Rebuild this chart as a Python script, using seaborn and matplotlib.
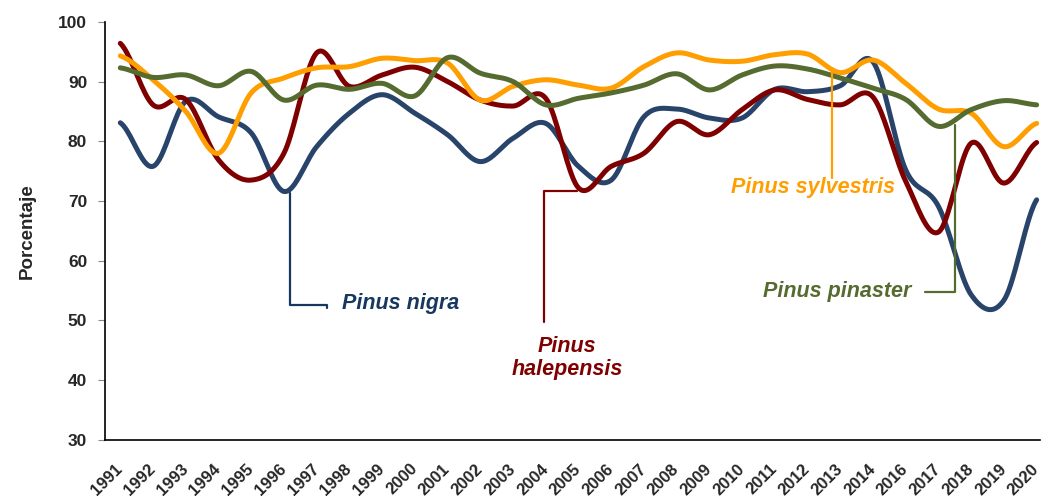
import numpy as np
import pandas as pd
import seaborn as sns
import matplotlib.pyplot as plt

# data (2015 is absent in the original)
years = [1991, 1992, 1993, 1994, 1995, 1996, 1997, 1998, 1999, 2000,
         2001, 2002, 2003, 2004, 2005, 2006, 2007, 2008, 2009, 2010,
         2011, 2012, 2013, 2014, 2016, 2017, 2018, 2019, 2020]
nigra = [83.1, 75.8, 86.7, 84.1, 81.4, 71.6, 79.1, 84.7, 87.8, 84.7,
         81.1, 76.6, 80.5, 83.0, 75.8, 73.5, 84.1, 85.4, 83.9, 83.9,
         88.7, 88.3, 89.3, 93.3, 75.2, 69.1, 54.3, 53.4, 70.2]
halepensis = [96.4, 86.1, 87.0, 76.9, 73.5, 78.0, 94.8, 89.2, 91.1, 92.4,
              90.0, 86.9, 85.9, 87.2, 72.2, 75.8, 78.0, 83.3, 81.1, 85.3,
              88.6, 87.0, 86.1, 87.4, 73.3, 64.8, 79.7, 73.0, 79.8]
sylvestris = [94.3, 90.3, 85.0, 78.0, 88.1, 90.6, 92.3, 92.5, 93.9, 93.5,
              93.1, 86.9, 89.2, 90.3, 89.4, 88.9, 92.5, 94.8, 93.6, 93.4,
              94.5, 94.6, 91.5, 93.6, 89.7, 85.4, 84.7, 79.1, 83.0]
pinaster = [92.3, 90.7, 91.1, 89.3, 91.7, 86.9, 89.4, 88.7, 89.7, 87.6,
            94.0, 91.4, 90.0, 86.1, 87.2, 88.1, 89.4, 91.3, 88.6, 91.1,
            92.6, 92.1, 90.6, 88.9, 87.0, 82.5, 85.3, 86.8, 86.1]

series = {'Pinus nigra': nigra, 'Pinus halepensis': halepensis,
          'Pinus sylvestris': sylvestris, 'Pinus pinaster': pinaster}
colors = {'Pinus nigra': '#28446a', 'Pinus halepensis': '#7f0000',
          'Pinus sylvestris': '#ff9e00', 'Pinus pinaster': '#556b2f'}


def smooth(vals, steps=20):
    # Catmull-Rom curve, close to the smoothed lines of a spreadsheet chart
    p = np.r_[vals[0], vals, vals[-1]].astype(float)
    xs, ys = [], []
    for i in range(len(vals) - 1):
        t = np.linspace(0, 1, steps, endpoint=False)
        p0, p1, p2, p3 = p[i], p[i + 1], p[i + 2], p[i + 3]
        y = 0.5 * (2 * p1 + (-p0 + p2) * t + (2 * p0 - 5 * p1 + 4 * p2 - p3) * t ** 2
                   + (-p0 + 3 * p1 - 3 * p2 + p3) * t ** 3)
        xs.append(i + t)
        ys.append(y)
    xs.append([len(vals) - 1])
    ys.append([vals[-1]])
    return np.concatenate(xs), np.concatenate(ys)


rows = []
for name, vals in series.items():
    x, y = smooth(vals)
    rows.append(pd.DataFrame({'x': x, 'y': y, 'species': name}))
df = pd.concat(rows, ignore_index=True)

sns.set_style('ticks')
plt.rcParams['font.family'] = ['Liberation Sans', 'DejaVu Sans']

fig = plt.figure(figsize=(10.42, 4.96), dpi=100)
ax = fig.add_axes([0.101, 0.113, 0.897, 0.843])

sns.lineplot(data=df, x='x', y='y', hue='species', palette=colors,
             linewidth=3.6, estimator=None, sort=False, legend=False, ax=ax)

ax.set_xlim(-0.46, len(years) - 0.9)
ax.set_ylim(30, 100)
ax.set_yticks(range(30, 101, 10))
ax.set_xticks(range(len(years)))
ax.set_xticklabels([str(y) for y in years], rotation=45, ha='right', va='center',
                   rotation_mode='anchor', fontweight='bold', fontsize=12)
for lab in ax.get_yticklabels():
    lab.set_fontweight('bold')
    lab.set_fontsize(12.5)
ax.tick_params(axis='y', length=5, color='#888888', pad=8)
ax.tick_params(axis='x', length=0, pad=19)
ax.set_xlabel('')
ax.set_ylabel('Porcentaje', fontsize=13.5, fontweight='bold', labelpad=16)
sns.despine(ax=ax)
for s in ['left', 'bottom']:
    ax.spines[s].set_color('black')
    ax.spines[s].set_linewidth(1.2)

# labels with leader lines
lw = 1.6
fs = 15.5
c = '#17375e'
ax.plot([5.19, 5.19, 6.32, 6.32], [71.4, 52.6, 52.6, 52.1], color=c, lw=lw)
ax.text(6.78, 52.9, 'Pinus nigra', color=c, fontsize=fs, fontweight='bold',
        fontstyle='italic', ha='left', va='center')

c = colors['Pinus halepensis']
ax.plot([13.95, 12.95, 12.95], [71.7, 71.7, 49.8], color=c, lw=lw)
ax.text(13.65, 43.7, 'Pinus\nhalepensis', color=c, fontsize=fs, fontweight='bold',
        fontstyle='italic', ha='center', va='center', linespacing=1.1)

c = colors['Pinus sylvestris']
ax.plot([21.74, 21.74], [92.2, 73.8], color=c, lw=lw)
ax.text(21.16, 72.2, 'Pinus sylvestris', color=c, fontsize=fs, fontweight='bold',
        fontstyle='italic', ha='center', va='center')

c = colors['Pinus pinaster']
ax.plot([24.58, 25.5, 25.5], [54.8, 54.8, 82.7], color=c, lw=lw)
ax.text(24.18, 54.8, 'Pinus pinaster', color=c, fontsize=fs, fontweight='bold',
        fontstyle='italic', ha='right', va='center')

fig.savefig('out.png', dpi=100)
